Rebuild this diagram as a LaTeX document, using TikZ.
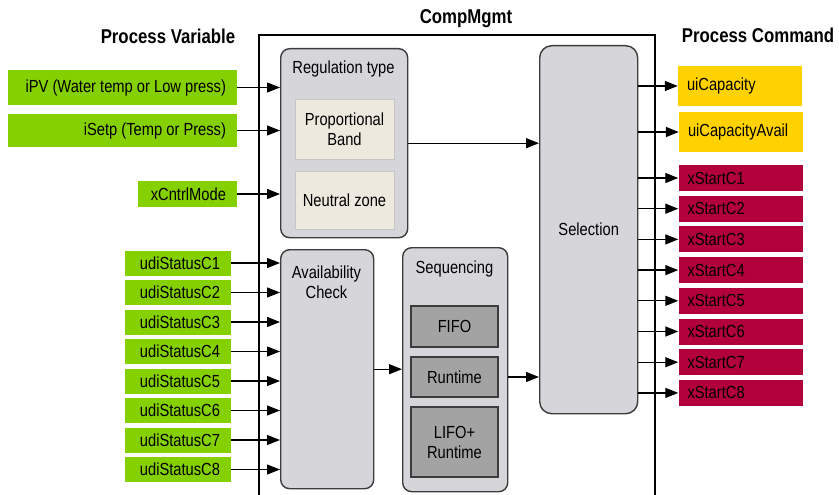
\documentclass[tikz,border=0pt]{standalone}
\usepackage{fontspec}
\setsansfont{Liberation Sans}[FakeStretch=0.84]
\usetikzlibrary{arrows.meta}

\definecolor{ingreen}{HTML}{84D000}
\definecolor{capyellow}{HTML}{FFD200}
\definecolor{startred}{HTML}{B2003C}
\definecolor{blockgray}{HTML}{D5D5DA}
\definecolor{algogray}{HTML}{A3A3A3}
\definecolor{bandbeige}{HTML}{EDE9DF}
\definecolor{edgegray}{HTML}{3C3C3C}

\tikzset{
  heading/.style={font=\sffamily\bfseries\fontsize{20}{24}\selectfont},
  frame/.style={line width=1.4pt},
  block/.style={draw=edgegray, fill=blockgray, line width=1.4pt,
    rounded corners=9pt, anchor=north west},
  bandbox/.style={draw=gray!45, fill=bandbeige, line width=1pt,
    minimum width=99, align=center},
  algo/.style={draw=edgegray, fill=algogray, line width=1.4pt,
    minimum width=87, align=center},
  % text pushed to the right end of a box of fixed width
  inbox/.style={fill=ingreen, inner xsep=11pt, inner ysep=0pt,
    execute at begin node={\hbox to #1\bgroup\hss},
    execute at end node={\egroup}},
  outbox/.style={text width=106, align=left, inner xsep=9pt, inner ysep=0pt,
    minimum width=124},
  conn/.style={line width=1.3pt}
}

\begin{document}
\begin{tikzpicture}[x=1pt,y=-1pt,>={Triangle[length=13pt,width=10pt]},
    font=\sffamily\fontsize{17.5}{20}\selectfont]
  \useasboundingbox (0,0) rectangle (839,495);

  % titles
  \node[heading] (pvhead) at (168,36) {Process Variable};
  \node[heading] (cmhead) at (466,19) {CompMgmt};
  \node[heading] (pchead) at (758,35) {Process Command};

  % CompMgmt frame (runs off the bottom)
  \draw[frame] (259,495) |- (655,35) -- (655,495);

  % regulation
  \node[block, minimum width=127, minimum height=189] (reg) at (280,48) {};
  \node (reglbl) at (343.5,69) {Regulation type};
  \node[bandbox, minimum height=59] (band) at (344.5,129.5) {Proportional\\Band};
  \node[bandbox, minimum height=58] (nz) at (344.5,200) {Neutral zone};

  % availability and sequencing
  \node[block, minimum width=93, minimum height=239] (avail) at (280,249) {};
  \node[align=center] (availlbl) at (326.5,282) {Availability\\Check};
  \node[block, minimum width=105, minimum height=244] (seq) at (402,247) {};
  \node (seqlbl) at (454.5,269) {Sequencing};
  \node[algo, minimum height=41] (fifo) at (454.5,326.5) {FIFO};
  \node[algo, minimum height=40] (rt) at (454.5,377) {Runtime};
  \node[algo, minimum height=70] (lifo) at (454.5,442) {LIFO+\\Runtime};

  % selection
  \node[block, rounded corners=12pt, minimum width=98, minimum height=368] (sel) at (539,45) {Selection};

  % inputs
  \node[inbox=207pt, minimum height=35] (ipv) at (122.5,87.5) {iPV (Water temp or Low press)};
  \node[inbox=207pt, minimum height=33] (isetp) at (122.5,130.5) {iSetp (Temp or Press)};
  \node[inbox=77pt, minimum height=26] (xcm) at (187.5,194) {xCntrlMode};
  \draw[conn,->] (ipv.east) -- (ipv.east -| reg.west);
  \draw[conn,->] (isetp.east) -- (isetp.east -| reg.west);
  \draw[conn,->] (xcm.east) -- (xcm.east -| reg.west);

  \foreach \i/\y in {1/263,2/292.5,3/322,4/351.5,5/381,6/410.5,7/440,8/469.5} {
    \node[inbox=84pt, minimum height=25] (st\i) at (178,\y) {udiStatusC\i};
    \draw[conn,->] (st\i.east) -- (st\i.east -| avail.west);
  }

  % internal flow
  \draw[conn,->] (reg.east) -- (reg.east -| sel.west);
  \draw[conn,->] (avail.east) -- (avail.east -| seq.west);
  \draw[conn,->] (seq.east |- rt.east) -- (rt.east -| sel.west);

  % outputs
  \node[outbox, fill=capyellow, minimum height=40] (cap) at (740,86) {uiCapacity};
  \node[outbox, fill=capyellow, minimum height=40] (capav) at (741,132) {uiCapacityAvail};
  \draw[conn,->] (sel.east |- cap.west) -- (cap.west);
  \draw[conn,->] (sel.east |- capav.west) -- (capav.west);

  \foreach \i/\y in {1/178,2/208.7,3/239.4,4/270.1,5/300.8,6/331.5,7/362.2,8/392.9} {
    \node[outbox, fill=startred, minimum height=26] (xs\i) at (740.5,\y) {xStartC\i};
    \draw[conn,->] (sel.east |- xs\i.west) -- (xs\i.west);
  }
\end{tikzpicture}
\end{document}
